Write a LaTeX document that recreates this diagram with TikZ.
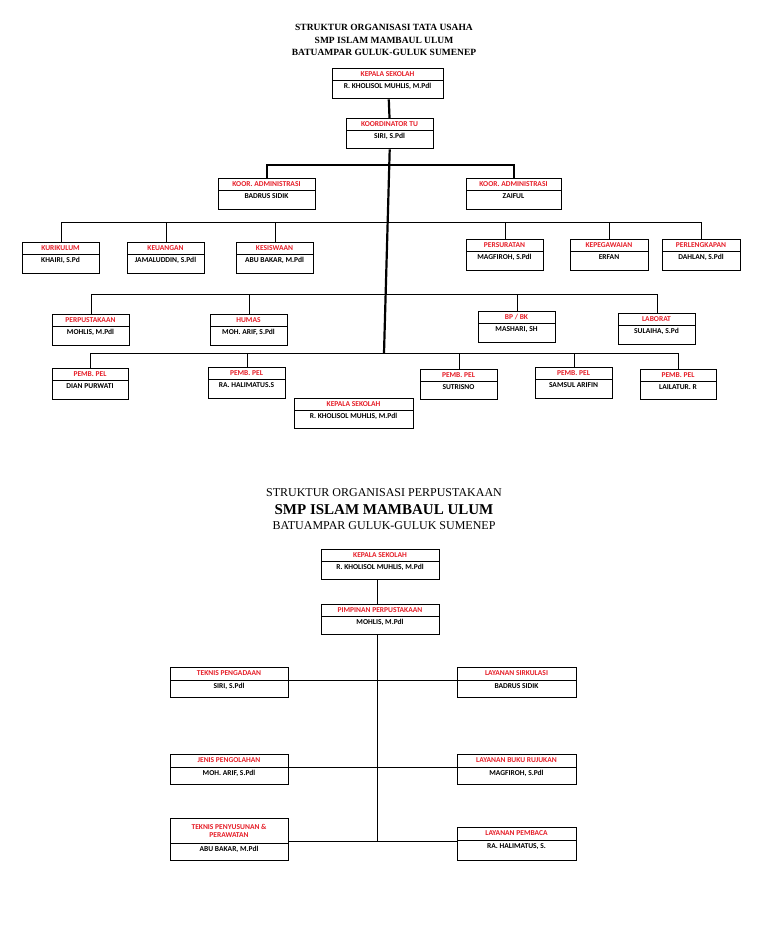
\documentclass[tikz,border=0pt]{standalone}
\usepackage{fontspec}
\setmainfont{Liberation Serif}
\newfontfamily\boxfont{Carlito}
\definecolor{tred}{RGB}{230,30,40}
\tikzset{x=1pt,y=-1pt,
 frame/.style={draw=black,line width=1.3pt,inner sep=0pt,anchor=north west},
 ttl/.style={text=tred,font=\boxfont\bfseries\fontsize{7.5}{8}\selectfont,inner sep=0pt,align=center},
 per/.style={text=black,font=\boxfont\bfseries\fontsize{7.5}{8}\selectfont,inner sep=0pt},
 thin/.style={line width=0.9pt},
 thk/.style={line width=2.2pt}}
% name, x1, x2, ytop, ydiv, ybot, title, person
\newcommand\obox[8]{%
 \pgfmathsetmacro\ow{#3-#2}\pgfmathsetmacro\oh{#6-#4}%
 \pgfmathsetmacro\tc{(#4+#5)/2}\pgfmathsetmacro\pc{#5+6.5}\pgfmathsetmacro\xc{(#2+#3)/2}%
 \node[frame,minimum width=\ow pt,minimum height=\oh pt] (#1) at (#2,#4) {};
 \draw[line width=1pt] (#2,#5) -- (#3,#5);
 \node[ttl] (#1t) at (\xc,\tc) {#7};
 \node[per] (#1p) at (\xc,\pc) {#8};}
\begin{document}
\begin{tikzpicture}
\useasboundingbox[fill=white] (0,0) rectangle (768,932);
% ---------- top titles
\node[font=\bfseries\fontsize{9.5}{11}\selectfont] (t1) at (384,27) {STRUKTUR ORGANISASI TATA USAHA};
\node[font=\bfseries\fontsize{9.5}{11}\selectfont] (t2) at (384,40) {SMP ISLAM MAMBAUL ULUM};
\node[font=\bfseries\fontsize{9.5}{11}\selectfont] (t3) at (384,52) {BATUAMPAR GULUK-GULUK SUMENEP};
% ---------- boxes
\obox{ks}{332}{443}{68}{80}{98}{KEPALA SEKOLAH}{R. KHOLISOL MUHLIS, M.Pdl}
\obox{kt}{346}{433}{118}{130}{148}{KOORDINATOR TU}{SIRI, S.Pdl}
\obox{ka}{218}{315}{178}{190}{209}{KOOR. ADMINISTRASI}{BADRUS SIDIK}
\obox{kb}{466}{561}{178}{190}{209}{KOOR. ADMINISTRASI}{ZAIFUL}
\obox{r1}{22}{99}{242}{254}{273}{KURIKULUM}{KHAIRI, S.Pd}
\obox{r2}{127}{204}{242}{254}{273}{KEUANGAN}{JAMALUDDIN, S.Pdl}
\obox{r3}{236}{313}{242}{254}{273}{KESISWAAN}{ABU BAKAR, M.Pdl}
\obox{r4}{466}{543}{239}{251}{270}{PERSURATAN}{MAGFIROH, S.Pdl}
\obox{r5}{570}{648}{239}{251}{270}{KEPEGAWAIAN}{ERFAN}
\obox{r6}{662}{740}{239}{251}{270}{PERLENGKAPAN}{DAHLAN, S.Pdl}
\obox{s1}{52}{129}{314}{326}{345}{PERPUSTAKAAN}{MOHLIS, M.Pdl}
\obox{s2}{210}{287}{314}{326}{345}{HUMAS}{MOH. ARIF, S.Pdl}
\obox{s3}{478}{555}{311}{323}{342}{BP / BK}{MASHARI, SH}
\obox{s4}{618}{695}{313}{325}{344}{LABORAT}{SULAIHA, S.Pd}
\obox{p1}{52}{128}{368}{380}{399}{PEMB. PEL}{DIAN PURWATI}
\obox{p2}{208}{285}{367}{379}{398}{PEMB. PEL}{RA. HALIMATUS.S}
\obox{p3}{420}{497}{369}{381}{399}{PEMB. PEL}{SUTRISNO}
\obox{p4}{535}{612}{367}{379}{398}{PEMB. PEL}{SAMSUL ARIFIN}
\obox{p5}{640}{716}{369}{381}{399}{PEMB. PEL}{LAILATUR. R}
\obox{kb2}{294}{413}{398}{410}{428}{KEPALA SEKOLAH}{R. KHOLISOL MUHLIS, M.Pdl}
% ---------- connectors top
\coordinate (mainEnd) at (384,353);
\draw[thk] (ks) -- (kt);
\draw[thk] (kt) -- (mainEnd);
\draw[thk] (ka.north) -- (ka.north |- 0,165) -- (kb.north |- 0,165) -- (kb.north);
\draw[thin] (r1.north) -- (r1.north |- 0,222) -- (r6.north |- 0,222) -- (r6.north);
\foreach \n in {r2,r3,r4,r5} \draw[thin] (\n.north) -- (\n.north |- 0,222);
\draw[thin] (s1.north) -- (s1.north |- 0,294) -- (s4.north |- 0,294) -- (s4.north);
\foreach \n in {s2,s3} \draw[thin] (\n.north) -- (\n.north |- 0,294);
\draw[thin] (p1.north) -- (p1.north |- 0,353) -- (p5.north |- 0,353) -- (p5.north);
\foreach \n in {p2,p3,p4} \draw[thin] (\n.north) -- (\n.north |- 0,353);
% ---------- bottom titles
\node[font=\fontsize{12}{14}\selectfont] (b1) at (384,493) {STRUKTUR ORGANISASI PERPUSTAKAAN};
\node[font=\bfseries\fontsize{15}{17}\selectfont] (b2) at (384,510) {SMP ISLAM MAMBAUL ULUM};
\node[font=\fontsize{12}{14}\selectfont] (b3) at (384,526) {BATUAMPAR GULUK-GULUK SUMENEP};
\obox{lk}{321}{439}{549}{561}{579}{KEPALA SEKOLAH}{R. KHOLISOL MUHLIS, M.Pdl}
\obox{lp}{321}{439}{604}{616}{634}{PIMPINAN PERPUSTAKAAN}{MOHLIS, M.Pdl}
\obox{la}{170}{288}{667}{680}{697}{TEKNIS PENGADAAN}{SIRI, S.Pdl}
\obox{lb}{170}{288}{754}{767}{784}{JENIS PENGOLAHAN}{MOH. ARIF, S.Pdl}
\obox{lc}{170}{288}{818}{843}{860}{TEKNIS PENYUSUNAN \&\\PERAWATAN}{ABU BAKAR, M.Pdl}
\obox{ra}{457}{576}{667}{680}{697}{LAYANAN SIRKULASI}{BADRUS SIDIK}
\obox{rb}{457}{576}{754}{767}{784}{LAYANAN BUKU RUJUKAN}{MAGFIROH, S.Pdl}
\obox{rc}{457}{576}{827}{840}{860}{LAYANAN PEMBACA}{RA. HALIMATUS, S.}
\coordinate (lend) at (377,842);
\draw[thin] (lk.south -| 377,0) -- (lp.north -| 377,0);
\draw[thin] (lp.south -| 377,0) -- (lend);
\draw[thin] (la.east |- 0,680) -- (ra.west |- 0,680);
\draw[thin] (lb.east |- 0,767) -- (rb.west |- 0,767);
\draw[thin] (lc.east |- 0,841) -- (rc.west |- 0,841);
\end{tikzpicture}
\end{document}
